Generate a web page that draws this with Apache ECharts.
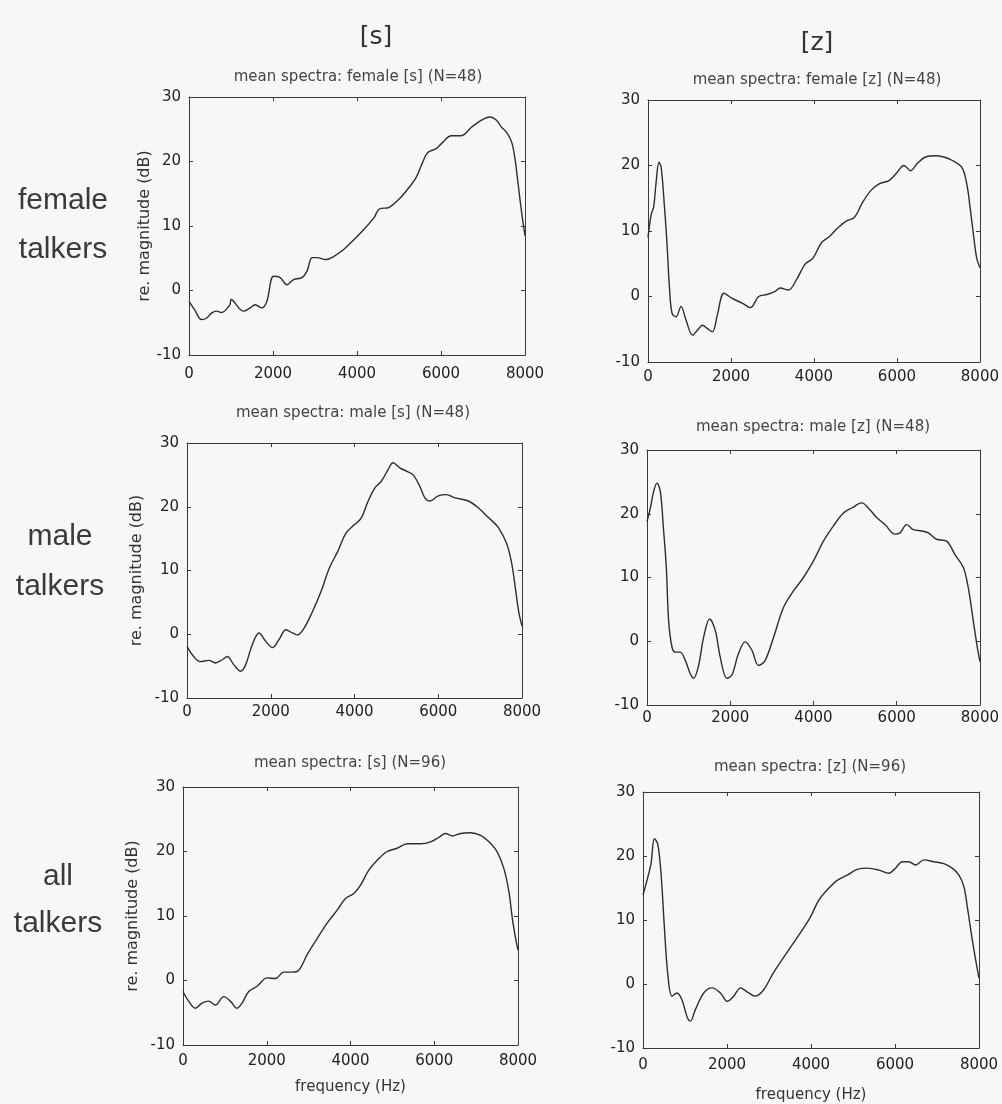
<!DOCTYPE html>
<html>
<head>
<meta charset="utf-8">
<script src="https://cdn.jsdelivr.net/npm/echarts@6/dist/echarts.min.js"></script>
<style>
html,body{margin:0;padding:0;background:#f7f7f5;}
#chart{width:1002px;height:1104px;}
</style>
</head>
<body>
<div id="chart"></div>
<script>
// ---------- data (frequency in Hz, relative magnitude in dB) ----------
const xTicks = [0, 2000, 4000, 6000, 8000];
const yTicks = [-10, 0, 10, 20, 30];

const femaleS_f  = [0,136,295,415,535,655,775,975,1000,1293,1453,1573,1733,1853,2012,2172,2331,2491,2690,2810,2930,3050,3250,3450,3690,3930,4168,4407,4527,4767,5006,5206,5406,5565,5685,5885,6044,6244,6484,6723,6963,7162,7322,7442,7562,7682,7762,7842,7922,8000];
const femaleS_db = [-1.7,-3,-4.5,-4.3,-3.5,-3.2,-3.4,-2.2,-1.4,-3.2,-2.7,-2.2,-2.7,-1.7,2.2,2.0,0.9,1.7,2.0,3.0,5.1,5.1,4.8,5.3,6.4,7.9,9.5,11.3,12.6,12.9,14.2,15.7,17.5,19.9,21.4,22,23,24,24,25.3,26.4,26.9,26.4,25.3,24.5,23,20.4,16.2,12,8.5];

const femaleZ_f  = [0,80,135,200,263,318,398,454,518,581,677,796,916,1075,1195,1314,1433,1553,1672,1831,2030,2269,2468,2667,2866,3065,3185,3384,3583,3782,3981,4180,4379,4578,4777,4976,5175,5374,5573,5812,5971,6170,6330,6489,6688,6927,7126,7325,7564,7683,7763,7843,7922,8000];
const femaleZ_db = [9.0,12.6,13.6,17.7,20.5,19.7,13.6,8.5,1.3,-2.6,-3.1,-1.5,-3.6,-5.9,-5.1,-4.4,-4.9,-5.4,-2.8,0.5,-0.3,-1.0,-1.7,0,0.3,0.8,1.3,1.0,2.6,4.9,5.9,8.2,9.2,10.5,11.5,12.1,14.4,16.2,17.2,17.7,18.7,20,19.2,20.3,21.3,21.5,21.3,20.8,19.7,17.2,13.6,9.5,5.9,4.4];

const maleS_f  = [0,160,320,520,680,840,960,1120,1280,1400,1560,1720,1880,2040,2200,2360,2520,2640,2800,3000,3200,3400,3600,3800,4000,4160,4320,4480,4640,4800,4920,5080,5240,5400,5560,5680,5800,6000,6200,6400,6720,6960,7200,7440,7640,7760,7840,7920,8000];
const maleS_db = [-1.9,-3.5,-4.3,-4.1,-4.5,-4.0,-3.5,-4.8,-5.8,-4.8,-1.6,0.2,-1.1,-2.1,-0.8,0.7,0.2,-0.1,1.0,3.6,6.7,10.4,13.0,15.9,17.2,18.2,20.8,22.9,24.0,25.8,26.9,26.1,25.6,25.0,23.2,21.4,20.9,21.7,21.9,21.4,20.9,19.8,18.3,16.7,14.1,10.9,7.3,3.6,1.3];

const maleZ_f  = [0,80,160,240,320,400,464,520,600,680,800,920,1040,1120,1240,1360,1504,1640,1760,1920,2040,2200,2360,2520,2680,2840,3040,3280,3520,3760,4000,4240,4480,4720,4920,5160,5360,5520,5720,5960,6080,6240,6400,6600,6760,6960,7200,7400,7600,7720,7840,7936,8000];
const maleZ_db = [18.8,20.9,23.5,24.8,23.5,17.3,11.6,3.2,-0.9,-1.7,-1.7,-3.0,-5.1,-5.8,-3.8,0.6,3.5,1.7,-2.5,-5.8,-5.3,-1.9,-0.1,-1.4,-3.8,-3.0,0.6,5.3,7.9,10,12.6,15.7,18.1,20.1,20.9,21.7,20.6,19.4,18.3,16.8,17.0,18.3,17.5,17.3,17.0,16.0,15.7,13.6,11.6,8.4,3.2,-0.9,-3.2];

const allS_f  = [0,135,295,454,614,773,972,1131,1291,1410,1570,1769,2008,2207,2406,2606,2765,2964,3203,3442,3681,3880,4080,4239,4438,4677,4876,5115,5355,5673,5912,6112,6271,6430,6629,6869,7108,7307,7506,7665,7785,7865,7944,8000];
const allS_db = [-1.7,-3.2,-4.3,-3.5,-3.2,-3.8,-2.5,-3.2,-4.3,-3.5,-1.7,-0.9,0.4,0.3,1.3,1.3,1.6,4.0,6.5,8.9,10.9,12.7,13.5,14.8,17.1,18.9,20.0,20.5,21.2,21.2,21.5,22.2,22.8,22.4,22.8,22.9,22.5,21.5,19.9,17.3,13.7,9.6,6.5,4.7];

const allZ_f  = [0,95,191,270,350,429,508,588,691,810,929,1048,1128,1247,1446,1644,1843,2002,2160,2319,2518,2676,2875,3074,3312,3551,3789,3988,4186,4385,4623,4861,5099,5337,5615,5854,6013,6172,6330,6489,6688,6926,7164,7363,7522,7641,7721,7816,7919,8000];
const allZ_db = [13.9,16.2,18.8,22.7,21.9,17.3,9.0,1.7,-1.9,-1.4,-2.5,-5.1,-5.8,-4.0,-1.4,-0.6,-1.4,-2.7,-1.9,-0.6,-1.4,-1.9,-0.9,1.4,3.8,6.1,8.4,10.5,13.1,14.7,16.2,17.0,17.9,18.1,17.8,17.3,18.1,19.1,19.1,18.6,19.4,19.1,18.8,18.1,17.0,15.2,12.1,7.9,3.8,0.9];

const panelTitles = ['mean spectra: female [s] (N=48)', 'mean spectra: female [z] (N=48)',
                     'mean spectra: male [s] (N=48)',   'mean spectra: male [z] (N=48)',
                     'mean spectra: [s] (N=96)',        'mean spectra: [z] (N=96)'];
const columnLabels = ['[s]', '[z]'];
const rowLabels = [['female', 'talkers'], ['male', 'talkers'], ['all', 'talkers']];
const yName = 're. magnitude (dB)';
const xName = 'frequency (Hz)';

// ---------- layout ----------
const panels = [
  {f: femaleS_f, d: femaleS_db, left:189, top:97,  w:336, h:258, tx:358, ty:77,  lm:12, yname:true,  yg:36, xname:false},
  {f: femaleZ_f, d: femaleZ_db, left:648, top:100, w:336, h:262, tx:817, ty:80,  lm:8,  yname:false, xname:false},
  {f: maleS_f,   d: maleS_db,   left:187, top:443, w:335, h:255, tx:353, ty:413, lm:7,  yname:true,  yg:42, xname:false},
  {f: maleZ_f,   d: maleZ_db,   left:647, top:450, w:335, h:255, tx:813, ty:427, lm:6,  yname:false, xname:false},
  {f: allS_f,    d: allS_db,    left:183, top:787, w:335, h:258, tx:350, ty:763, lm:9,  yname:true,  yg:42, xname:true, xg:35},
  {f: allZ_f,    d: allZ_db,    left:643, top:792, w:336, h:258, tx:810, ty:767, lm:10, yname:false, xname:true, xg:40}
];

const FONT = 'DejaVu Sans';
const axisCol = '#3a3a3a';
const grids = [], xAxes = [], yAxes = [], series = [], graphics = [];

panels.forEach((p, i) => {
  grids.push({left: p.left, top: p.top, width: p.w, height: p.h, show: false});
  const common = {min: 0, max: 8000, interval: 2000, gridIndex: i, splitLine: {show: false},
    axisLine: {show: true, onZero: false, lineStyle: {color: axisCol, width: 1}},
    axisTick: {show: true, inside: true, length: 4, lineStyle: {color: axisCol}}};
  xAxes.push(Object.assign({}, common, {type: 'value', position: 'bottom',
    axisLabel: {color: '#222', fontFamily: FONT, fontSize: 15, margin: p.lm,
      customValues: xTicks, formatter: v => String(v)},
    name: p.xname ? xName : '', nameLocation: 'middle', nameGap: p.xg || 30,
    nameTextStyle: {color: '#333', fontFamily: FONT, fontSize: 15}}));
  xAxes.push(Object.assign({}, common, {type: 'value', position: 'top', axisLabel: {show: false}}));
  const ycommon = {type: 'value', min: -10, max: 30, interval: 10, gridIndex: i, splitLine: {show: false},
    axisLine: {show: true, onZero: false, lineStyle: {color: axisCol, width: 1}},
    axisTick: {show: true, inside: true, length: 4, lineStyle: {color: axisCol}}};
  yAxes.push(Object.assign({}, ycommon, {position: 'left',
    axisLabel: {color: '#222', fontFamily: FONT, fontSize: 15, margin: 8},
    name: p.yname ? yName : '', nameLocation: 'middle', nameGap: p.yg || 40, nameRotate: 90,
    nameTextStyle: {color: '#333', fontFamily: FONT, fontSize: 16}}));
  yAxes.push(Object.assign({}, ycommon, {position: 'right', axisLabel: {show: false}}));
  series.push({type: 'line', xAxisIndex: 2 * i, yAxisIndex: 2 * i,
    data: p.f.map((x, k) => [x, p.d[k]]), smooth: 0.35, showSymbol: false,
    lineStyle: {color: '#2e2e2e', width: 1.4}, animation: false});
  graphics.push({type: 'text', x: p.tx, y: p.ty,
    style: {text: panelTitles[i], fill: '#444', font: '15px "' + FONT + '"', textAlign: 'center', textVerticalAlign: 'middle'}});
});

// column headers
graphics.push({type: 'text', x: 376, y: 37, style: {text: columnLabels[0], fill: '#333', font: '25px "' + FONT + '"', textAlign: 'center', textVerticalAlign: 'middle'}});
graphics.push({type: 'text', x: 817, y: 43, style: {text: columnLabels[1], fill: '#333', font: '25px "' + FONT + '"', textAlign: 'center', textVerticalAlign: 'middle'}});
// row labels
const rowPos = [[63, 201, 250], [60, 537, 587], [58, 877, 924]];
rowLabels.forEach((lab, r) => {
  lab.forEach((t, j) => {
    graphics.push({type: 'text', x: rowPos[r][0], y: rowPos[r][1 + j],
      style: {text: t, fill: '#3a3a3a', font: '30px "Liberation Sans"', textAlign: 'center', textVerticalAlign: 'middle'}});
  });
});

const chart = echarts.init(document.getElementById('chart'), null, {renderer: 'canvas'});
chart.setOption({
  backgroundColor: '#f7f7f5',
  animation: false,
  grid: grids,
  xAxis: xAxes,
  yAxis: yAxes,
  series: series,
  graphic: graphics
});
</script>
</body>
</html>
